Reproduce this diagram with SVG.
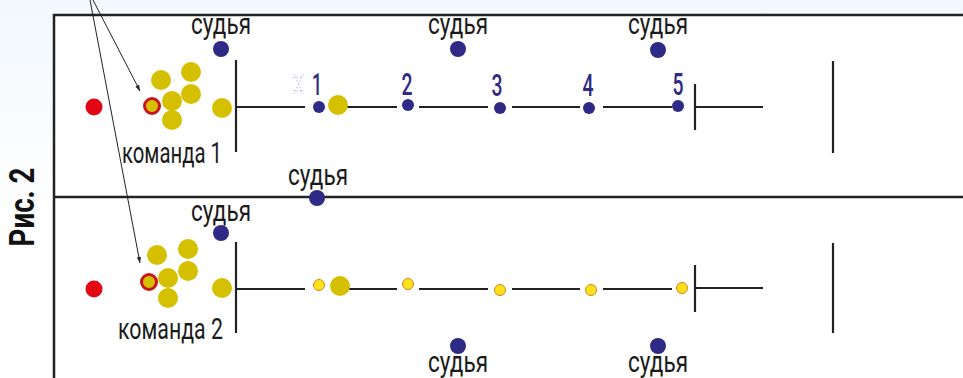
<svg xmlns="http://www.w3.org/2000/svg" width="963" height="378" viewBox="0 0 963 378">
<defs>
<linearGradient id="bg" x1="0" y1="0" x2="0" y2="1">
<stop offset="0" stop-color="#f2f8fd"/>
<stop offset="0.6" stop-color="#ffffff"/>
</linearGradient>
<marker id="ah" viewBox="0 0 10 10" refX="10" refY="5" markerWidth="9" markerHeight="6" orient="auto" markerUnits="userSpaceOnUse">
<path d="M0,1.5 L10,5 L0,8.5 z" fill="#222"/>
</marker>
<style>
.frame{fill:none;stroke:#222;stroke-width:2.5}
.trk{fill:none;stroke:#222;stroke-width:2.2}
.judge{fill:#2e2a85}
.yel{fill:#d5c000}
.red{fill:#e30613}
.ring{fill:#d5c000;stroke:#c8161e;stroke-width:3}
.sm{fill:#ffe21a;stroke:#d1861c;stroke-width:1}
.nd{fill:#2e2a85}
.lbl{font-family:"Roboto","Liberation Sans",sans-serif;font-size:29px;fill:#1a1a1a;font-weight:400}
.num{font-family:"Roboto","Liberation Sans",sans-serif;font-size:31px;fill:#2e2a85;font-weight:500;text-anchor:middle}
.arr{fill:none;stroke:#222;stroke-width:1}
</style>
</defs>
<rect x="0" y="0" width="963" height="378" fill="url(#bg)"/>
<rect x="54" y="15" width="920" height="380" fill="#ffffff"/>
<g id="frame">
<path class="frame" d="M54,378 L54,15 L963,15"/>
<line class="frame" x1="54" y1="197" x2="963" y2="197"/>
</g>
<text x="34" y="207" transform="rotate(-90 34 207)" text-anchor="middle" font-family="Roboto, 'Liberation Sans', sans-serif" font-size="35" font-weight="700" fill="#111" textLength="79" lengthAdjust="spacingAndGlyphs">Рис. 2</text>

<g id="tracks">
<line class="trk" x1="236" y1="60" x2="236" y2="152"/>
<path class="trk" d="M236,107 H305 M337,107 H397 M419,107 H488 M512,107 H580 M603,107 H672"/>
<line class="trk" x1="695" y1="84" x2="695" y2="130"/>
<line class="trk" x1="695" y1="107" x2="763" y2="107"/>
<line class="trk" x1="833" y1="61" x2="833" y2="153"/>
<line class="trk" x1="236" y1="242" x2="236" y2="333"/>
<path class="trk" d="M236,289 H305 M340,289 H397 M419,289 H488 M512,289 H580 M603,289 H672"/>
<line class="trk" x1="695" y1="265" x2="695" y2="312"/>
<line class="trk" x1="695" y1="288" x2="763" y2="288"/>
<line class="trk" x1="833" y1="243" x2="833" y2="333"/>
</g>

<g id="connectors">
<line class="arr" x1="93" y1="0" x2="140" y2="91" marker-end="url(#ah)"/>
<line class="arr" x1="90" y1="0" x2="140" y2="263" marker-end="url(#ah)"/>
</g>

<g id="team1">
<circle class="red" cx="94" cy="107" r="8.5"/>
<circle class="yel" cx="161" cy="80" r="10"/>
<circle class="yel" cx="191" cy="72" r="10"/>
<circle class="yel" cx="191" cy="94" r="10"/>
<circle class="yel" cx="172" cy="101" r="10"/>
<circle class="yel" cx="172" cy="120" r="10"/>
<circle class="ring" cx="152" cy="106" r="7.5"/>
<circle class="yel" cx="222" cy="108" r="10"/>
<text class="lbl" x="122" y="163" textLength="100" lengthAdjust="spacingAndGlyphs">команда 1</text>
</g>

<g id="stations1">
<circle class="nd" cx="319" cy="107" r="6"/>
<circle class="yel" cx="338" cy="105" r="10"/>
<circle class="nd" cx="408" cy="105" r="6"/>
<circle class="nd" cx="500" cy="108" r="6"/>
<circle class="nd" cx="589" cy="108" r="6"/>
<circle class="nd" cx="678" cy="106" r="6"/>
<text class="num" x="317" y="95" textLength="10" lengthAdjust="spacingAndGlyphs">1</text>
<text class="num" x="407" y="95" textLength="11" lengthAdjust="spacingAndGlyphs">2</text>
<text class="num" x="497" y="96" textLength="11" lengthAdjust="spacingAndGlyphs">3</text>
<text class="num" x="588" y="96" textLength="11" lengthAdjust="spacingAndGlyphs">4</text>
<text class="num" x="678" y="95" textLength="11" lengthAdjust="spacingAndGlyphs">5</text>
<path d="M294,74 L303,94 M303,74 L294,94 M293,77 H304 M293,91 H304" fill="none" stroke="#a9a7d4" stroke-width="1" stroke-dasharray="1.5 2" opacity="0.8"/>
</g>

<g id="team2">
<circle class="red" cx="94" cy="289" r="8.5"/>
<circle class="yel" cx="157" cy="255" r="10"/>
<circle class="yel" cx="188" cy="249" r="10"/>
<circle class="yel" cx="188" cy="271" r="10"/>
<circle class="yel" cx="168" cy="278" r="10"/>
<circle class="yel" cx="168" cy="298" r="10"/>
<circle class="ring" cx="149" cy="282" r="7.5"/>
<circle class="yel" cx="222" cy="288" r="10"/>
<text class="lbl" x="118" y="339" textLength="105" lengthAdjust="spacingAndGlyphs">команда 2</text>
</g>

<g id="stations2">
<circle class="sm" cx="319" cy="285" r="5.5"/>
<circle class="yel" cx="340" cy="286" r="10"/>
<circle class="sm" cx="408" cy="284" r="5.5"/>
<circle class="sm" cx="500" cy="290" r="5.5"/>
<circle class="sm" cx="591" cy="290" r="5.5"/>
<circle class="sm" cx="682" cy="288" r="5.5"/>
</g>

<g id="judge1"><circle class="judge" cx="221" cy="49" r="8"/><text class="lbl" x="191" y="34" textLength="60" lengthAdjust="spacingAndGlyphs">судья</text></g>
<g id="judge2"><circle class="judge" cx="458" cy="49" r="8"/><text class="lbl" x="428" y="34" textLength="60" lengthAdjust="spacingAndGlyphs">судья</text></g>
<g id="judge3"><circle class="judge" cx="658" cy="50" r="8"/><text class="lbl" x="628" y="34" textLength="60" lengthAdjust="spacingAndGlyphs">судья</text></g>
<g id="judge4"><circle class="judge" cx="317" cy="198" r="8"/><text class="lbl" x="288" y="185" textLength="60" lengthAdjust="spacingAndGlyphs">судья</text></g>
<g id="judge5"><circle class="judge" cx="221" cy="233" r="8"/><text class="lbl" x="191" y="221" textLength="60" lengthAdjust="spacingAndGlyphs">судья</text></g>
<g id="judge6"><circle class="judge" cx="458" cy="346" r="8"/><text class="lbl" x="428" y="372" textLength="60" lengthAdjust="spacingAndGlyphs">судья</text></g>
<g id="judge7"><circle class="judge" cx="658" cy="346" r="8"/><text class="lbl" x="628" y="372" textLength="60" lengthAdjust="spacingAndGlyphs">судья</text></g>
</svg>
